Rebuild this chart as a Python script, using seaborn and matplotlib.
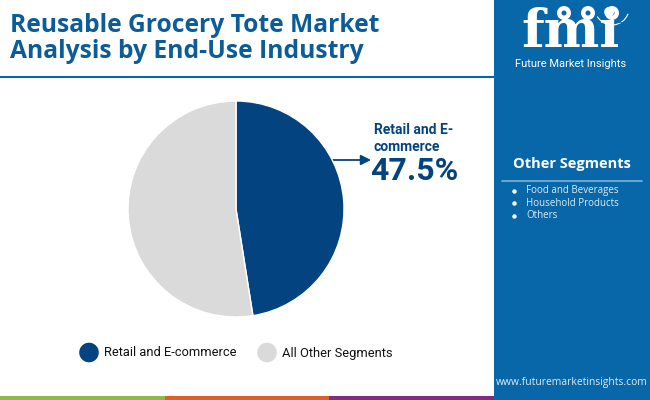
# Reusable grocery tote market share pie, with the side panel and footer
import matplotlib.pyplot as plt
import matplotlib.patches as mpatches
import seaborn as sns

# data
segments = ['Retail and E-commerce', 'All Other Segments']
shares = [47.5, 52.5]
other_segments = ['Food and Beverages', 'Household Products', 'Others']
title_lines = ['Reusable Grocery Tote Market', 'Analysis by End-Use Industry']

# colours
navy = '#03437F'
grey = '#DADADA'
panel = '#0867A8'
title_blue = '#0B5C97'

sns.set_theme(style='white')
plt.rcParams['font.family'] = ['Roboto', 'DejaVu Sans']

fig = plt.figure(figsize=(6.5, 4), dpi=100)

# background axes in pixel coordinates for all the decoration
bg = fig.add_axes([0, 0, 1, 1])
bg.set_xlim(0, 650)
bg.set_ylim(400, 0)
bg.axis('off')

# side panel, header rule and footer stripes
bg.add_patch(mpatches.Rectangle((494, 0), 156, 400, color=panel, lw=0))
bg.plot([0, 494], [76.5, 76.5], color=panel, lw=1.5)
for x0, x1, c in [(0, 165, '#8CBB45'), (165, 329, '#E05F27'), (329, 494, '#832A85')]:
    bg.add_patch(mpatches.Rectangle((x0, 395.5), x1 - x0, 4.5, color=c, lw=0))

# title
for line, y in zip(title_lines, [26, 52]):
    bg.text(10, y, line, color=title_blue, fontsize=17.75, fontweight='bold',
            family=['Open Sans', 'DejaVu Sans'], va='center', ha='left')

# logo
bg.text(571, 47, 'fmi', color='white', fontsize=38, fontweight='bold',
        family='DejaVu Serif', va='baseline', ha='center')
for y in [22, 27, 32, 37, 42]:
    bg.plot([515, 628], [y, y], color=panel, lw=0.6)
for x, y in [(564, 13), (588, 13), (612, 13)]:
    bg.add_patch(mpatches.Circle((x, y), 7, color='white', lw=0))
    bg.add_patch(mpatches.Circle((x, y), 2.5, color=panel, lw=0))
bg.add_patch(mpatches.Arc((612, 8), 34, 34, theta1=20, theta2=150, color='white', lw=0.8))
bg.text(571, 64, 'Future Market Insights', color='white', fontsize=8, va='center', ha='center')

# side panel text
bg.text(572, 164, 'Other Segments', color='white', fontsize=10.5, fontweight='bold',
        family=['Open Sans', 'DejaVu Sans'], va='center', ha='center')
bg.plot([502, 642], [181, 181], color='#7FB2D8', lw=1.2)
for name, y in zip(other_segments, [191, 203, 216]):
    bg.plot([514], [y], 'o', color='white', ms=2.2)
    bg.text(526, y, name, color='#DCEBF6', fontsize=7,
            family=['Open Sans', 'DejaVu Sans'], va='center', ha='left')
bg.text(572, 383, 'www.futuremarketinsights.com', color='#DCEBF6', fontsize=7.35,
        family=['Open Sans', 'DejaVu Sans'], va='center', ha='center')

# pie
ax = fig.add_axes([(236 - 108) / 650, 1 - (209 + 108) / 400, 216 / 650, 216 / 400])
ax.pie(shares, colors=[navy, grey], startangle=90, counterclock=False, radius=1.0)
ax.set_xlim(-1, 1)
ax.set_ylim(-1, 1)

# callout
bg.annotate('', xy=(371, 160), xytext=(330, 160),
            arrowprops=dict(arrowstyle='-|>', color=navy, lw=1.3, mutation_scale=15,
                            shrinkA=0, shrinkB=0))
bg.text(374, 130, 'Retail and E-', color=navy, fontsize=10, fontweight='bold', va='center')
bg.text(374, 147, 'commerce', color=navy, fontsize=10, fontweight='bold', va='center')
bg.text(370, 171, '47.5%', color=navy, fontsize=23, fontweight='bold', va='center')

# legend
for name, c, x_c, x_t in zip(segments, [navy, grey], [89, 267], [104, 282]):
    bg.add_patch(mpatches.Circle((x_c, 352.5), 9.8, color=c, lw=0))
    bg.text(x_t, 353, name, color='#111111', fontsize=9.3, va='center', ha='left')

fig.savefig('out.png', dpi=100)
